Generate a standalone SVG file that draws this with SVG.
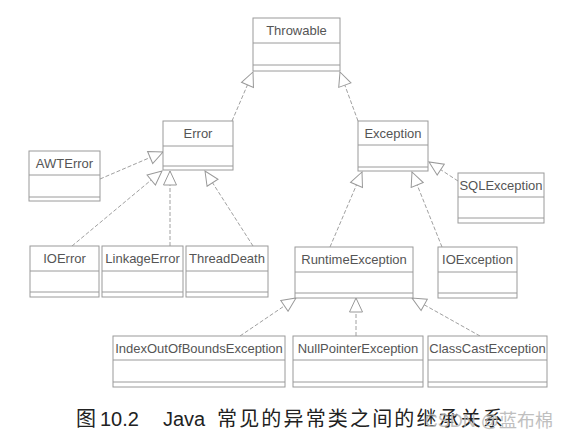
<svg xmlns="http://www.w3.org/2000/svg" width="570" height="439" viewBox="0 0 570 439">
<style>
.box{fill:#fff;stroke:#9a9a9a;stroke-width:1}
.ln{stroke:#9a9a9a;stroke-width:1}
.lbl{font-family:"Liberation Sans",Arial,sans-serif;font-size:13px;fill:#555;text-anchor:middle}
.conn{stroke:#a0a0a0;stroke-width:1;stroke-dasharray:4 2;fill:none;marker-end:url(#tri)}
.cap{font-family:"Liberation Sans","Noto Sans CJK SC",sans-serif;font-size:20px;fill:#222}
</style>
<defs>
<marker id="tri" markerUnits="userSpaceOnUse" markerWidth="16" markerHeight="15" refX="15" refY="7.5" orient="auto" viewBox="0 0 16 15">
<path d="M1,1 L15,7.5 L1,14 Z" fill="#fff" stroke="#999" stroke-width="1"/>
</marker>
</defs>
<rect width="570" height="439" fill="#fff"/>
<g id="connectors">
<line class="conn" x1="232" y1="121" x2="253" y2="72"/>
<line class="conn" x1="358" y1="121" x2="340" y2="72"/>
<line class="conn" x1="100" y1="179" x2="163" y2="152"/>
<line class="conn" x1="72" y1="246" x2="162" y2="171"/>
<line class="conn" x1="170" y1="246" x2="170" y2="171"/>
<line class="conn" x1="253" y1="246" x2="205" y2="171"/>
<line class="conn" x1="458" y1="181" x2="429" y2="162"/>
<line class="conn" x1="330" y1="247" x2="362" y2="172"/>
<line class="conn" x1="442" y1="247" x2="412" y2="172"/>
<line class="conn" x1="240" y1="336" x2="296" y2="298"/>
<line class="conn" x1="356" y1="336" x2="356" y2="298"/>
<line class="conn" x1="480" y1="336" x2="412" y2="298"/>
</g>
<g id="Throwable">
<rect class="box" x="253" y="18" width="87" height="53"/>
<line class="ln" x1="253" y1="43" x2="340" y2="43"/>
<line class="ln" x1="253" y1="65" x2="340" y2="65"/>
<text class="lbl" x="296.5" y="35">Throwable</text>
</g>
<g id="Error">
<rect class="box" x="163" y="121" width="70" height="49"/>
<line class="ln" x1="163" y1="146" x2="233" y2="146"/>
<line class="ln" x1="163" y1="166" x2="233" y2="166"/>
<text class="lbl" x="198" y="138">Error</text>
</g>
<g id="Exception">
<rect class="box" x="358" y="121" width="70" height="50"/>
<line class="ln" x1="358" y1="145" x2="428" y2="145"/>
<line class="ln" x1="358" y1="167" x2="428" y2="167"/>
<text class="lbl" x="393" y="138">Exception</text>
</g>
<g id="AWTError">
<rect class="box" x="29" y="151" width="71" height="50"/>
<line class="ln" x1="29" y1="175" x2="100" y2="175"/>
<line class="ln" x1="29" y1="197" x2="100" y2="197"/>
<text class="lbl" x="64.5" y="168">AWTError</text>
</g>
<g id="SQLException">
<rect class="box" x="458" y="173" width="86" height="50"/>
<line class="ln" x1="458" y1="197" x2="544" y2="197"/>
<line class="ln" x1="458" y1="218" x2="544" y2="218"/>
<text class="lbl" x="501" y="190">SQLException</text>
</g>
<g id="IOError">
<rect class="box" x="30" y="246" width="69" height="51"/>
<line class="ln" x1="30" y1="271" x2="99" y2="271"/>
<line class="ln" x1="30" y1="292" x2="99" y2="292"/>
<text class="lbl" x="64.5" y="263">IOError</text>
</g>
<g id="LinkageError">
<rect class="box" x="102" y="246" width="81" height="51"/>
<line class="ln" x1="102" y1="271" x2="183" y2="271"/>
<line class="ln" x1="102" y1="292" x2="183" y2="292"/>
<text class="lbl" x="142.5" y="263">LinkageError</text>
</g>
<g id="ThreadDeath">
<rect class="box" x="186" y="246" width="82" height="51"/>
<line class="ln" x1="186" y1="271" x2="268" y2="271"/>
<line class="ln" x1="186" y1="292" x2="268" y2="292"/>
<text class="lbl" x="227" y="263">ThreadDeath</text>
</g>
<g id="RuntimeException">
<rect class="box" x="295" y="247" width="118" height="51"/>
<line class="ln" x1="295" y1="272" x2="413" y2="272"/>
<line class="ln" x1="295" y1="293" x2="413" y2="293"/>
<text class="lbl" x="354" y="264">RuntimeException</text>
</g>
<g id="IOException">
<rect class="box" x="438" y="247" width="79" height="51"/>
<line class="ln" x1="438" y1="272" x2="517" y2="272"/>
<line class="ln" x1="438" y1="293" x2="517" y2="293"/>
<text class="lbl" x="477.5" y="264">IOException</text>
</g>
<g id="IndexOutOfBoundsException">
<rect class="box" x="113" y="336" width="172" height="51"/>
<line class="ln" x1="113" y1="360" x2="285" y2="360"/>
<line class="ln" x1="113" y1="382" x2="285" y2="382"/>
<text class="lbl" x="199" y="353">IndexOutOfBoundsException</text>
</g>
<g id="NullPointerException">
<rect class="box" x="293" y="336" width="130" height="51"/>
<line class="ln" x1="293" y1="360" x2="423" y2="360"/>
<line class="ln" x1="293" y1="382" x2="423" y2="382"/>
<text class="lbl" x="358" y="353">NullPointerException</text>
</g>
<g id="ClassCastException">
<rect class="box" x="428" y="336" width="119" height="51"/>
<line class="ln" x1="428" y1="360" x2="547" y2="360"/>
<line class="ln" x1="428" y1="382" x2="547" y2="382"/>
<text class="lbl" x="487.5" y="353">ClassCastException</text>
</g>
<g id="caption">
<text class="cap" x="76" y="426">图</text>
<text class="cap" x="100" y="426">10.2</text>
<text class="cap" x="163" y="426">Java</text>
<text class="cap" x="217" y="426" textLength="286" lengthAdjust="spacing">常见的异常类之间的继承关系</text>
<text x="553" y="427" text-anchor="end" font-family="'Liberation Sans','Noto Sans CJK SC',sans-serif" font-size="18" fill="#b5b5b5" opacity="0.85">CSDN @蓝布棉</text>
</g>
</svg>
